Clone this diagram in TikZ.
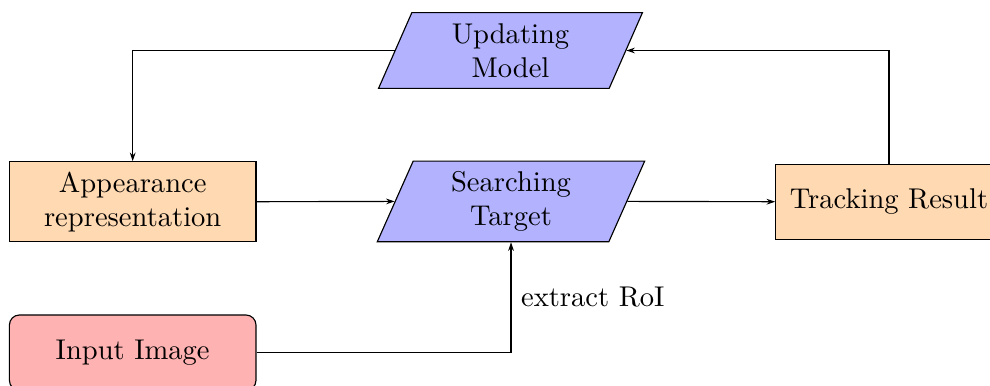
\documentclass[tikz,border=0pt]{standalone}
\usetikzlibrary{shapes.geometric,arrows.meta}
\begin{document}
\begin{tikzpicture}[x=0.35pt,y=-0.35pt,
  box/.style={draw, fill=orange!30, align=center, inner sep=0pt},
  io/.style={trapezium, trapezium left angle=70, trapezium right angle=110,
             trapezium stretches=true, draw, fill=blue!30, align=center, inner sep=0pt},
  arr/.style={-{Stealth[length=3pt,width=2pt]}}]
  \useasboundingbox (0,0) rectangle (990,385);
  \clip (0,0) rectangle (990,385);

  % process blocks
  \node[box, minimum width=86.3pt, minimum height=28pt] (app) at (132.7,201.7) {Appearance\\representation};
  \node[io, minimum width=93.8pt, minimum height=28.2pt] (search) at (511,201.4) {Searching\\Target};
  \node[io, minimum width=92.8pt, minimum height=26.5pt] (update) at (510.5,50.5) {Updating\\Model};
  \node[box, minimum width=79.3pt, minimum height=26.3pt] (track) at (889,201.7) {Tracking Result};
  \node[draw, rounded corners=3.5pt, fill=red!30, minimum width=86.3pt, minimum height=26.4pt] (input) at (132.7,352.7) {Input Image};

  % flow
  \draw[arr] (app.east) -- (search.west);
  \draw[arr] (search.east) -- (track.west);
  \draw[arr] (track.north) |- (update.east);
  \draw[arr] (update.west) -| (app.north);
  \draw[arr] (input.east) -| node[pos=0.75, right] {extract RoI} (search.south);
\end{tikzpicture}
\end{document}
